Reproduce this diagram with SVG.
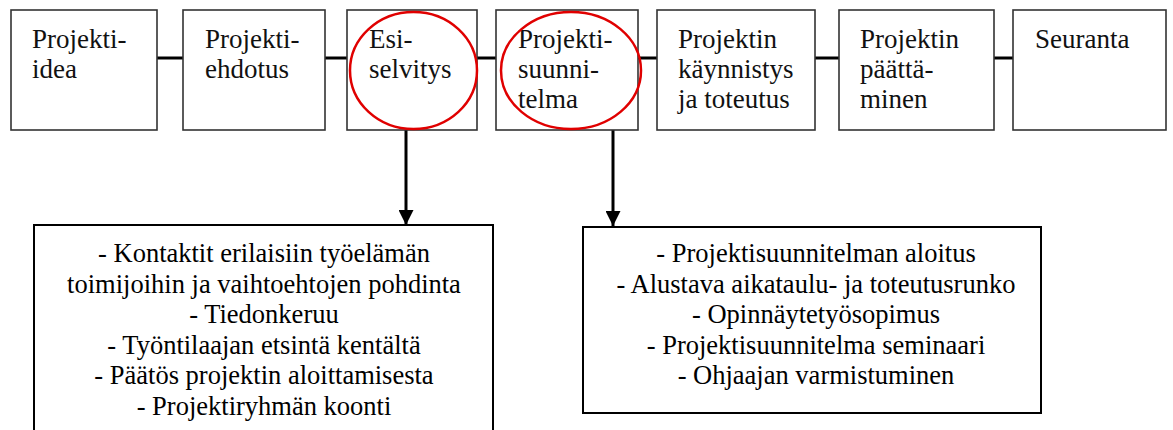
<svg xmlns="http://www.w3.org/2000/svg" width="1173" height="430" viewBox="0 0 1173 430">
<style>
  .box{fill:#fff;stroke:#333;stroke-width:1.6}
  .bbox{fill:#fff;stroke:#000;stroke-width:2}
  .t{font-size:27px;fill:#111}
  .b{font-size:26.5px;fill:#000;text-anchor:middle}
  .conn{stroke:#000;stroke-width:3;fill:none}
  .circ{fill:none;stroke:#e00000;stroke-width:2.5}
</style>
<defs>
  <marker id="ah" markerWidth="5" markerHeight="5" refX="5" refY="2.5" orient="auto" markerUnits="strokeWidth">
    <path d="M0,0 L5,2.5 L0,5 Z" fill="#000"/>
  </marker>
</defs>
<rect width="1173" height="430" fill="#fff"/>
<g id="connectors">
  <line class="conn" x1="157" y1="58" x2="183" y2="58"/>
  <line class="conn" x1="325" y1="58" x2="347" y2="58"/>
  <line class="conn" x1="477" y1="58" x2="496" y2="58"/>
  <line class="conn" x1="638" y1="58" x2="657" y2="58"/>
  <line class="conn" x1="815" y1="58" x2="839" y2="58"/>
  <line class="conn" x1="994" y1="58" x2="1013" y2="58"/>
  <line class="conn" x1="406" y1="130" x2="406" y2="225" marker-end="url(#ah)"/>
  <line class="conn" x1="613" y1="130" x2="613" y2="226" marker-end="url(#ah)"/>
</g>
<g font-family="Liberation Serif">
<g id="n1">
  <rect class="box" x="11" y="10" width="146" height="120"/>
  <text class="t" x="32" y="48">Projekti-</text>
  <text class="t" x="32" y="78">idea</text>
</g>
<g id="n2">
  <rect class="box" x="183" y="10" width="142" height="120"/>
  <text class="t" x="205" y="48">Projekti-</text>
  <text class="t" x="205" y="78">ehdotus</text>
</g>
<g id="n3">
  <rect class="box" x="347" y="10" width="130" height="120"/>
  <text class="t" x="369" y="48">Esi-</text>
  <text class="t" x="369" y="78">selvitys</text>
</g>
<g id="n4">
  <rect class="box" x="496" y="10" width="142" height="120"/>
  <text class="t" x="518" y="48">Projekti-</text>
  <text class="t" x="518" y="78">suunni-</text>
  <text class="t" x="518" y="108">telma</text>
</g>
<g id="n5">
  <rect class="box" x="657" y="10" width="158" height="120"/>
  <text class="t" x="678" y="48">Projektin</text>
  <text class="t" x="678" y="78">käynnistys</text>
  <text class="t" x="678" y="108">ja toteutus</text>
</g>
<g id="n6">
  <rect class="box" x="839" y="10" width="155" height="120"/>
  <text class="t" x="860" y="48">Projektin</text>
  <text class="t" x="860" y="78">päättä-</text>
  <text class="t" x="860" y="108">minen</text>
</g>
<g id="n7">
  <rect class="box" x="1013" y="10" width="153" height="120"/>
  <text class="t" x="1035" y="48">Seuranta</text>
</g>
<g id="highlights">
  <ellipse class="circ" cx="413.5" cy="70.5" rx="63.5" ry="58.5"/>
  <ellipse class="circ" cx="571" cy="70.5" rx="70" ry="58.5"/>
</g>
<g id="n8">
  <rect class="bbox" x="34" y="225" width="459" height="210"/>
  <text class="b" x="264" y="262">- Kontaktit erilaisiin työelämän</text>
  <text class="b" x="264" y="292.5">toimijoihin ja vaihtoehtojen pohdinta</text>
  <text class="b" x="264" y="323">- Tiedonkeruu</text>
  <text class="b" x="264" y="353.5">- Työntilaajan etsintä kentältä</text>
  <text class="b" x="264" y="384">- Päätös projektin aloittamisesta</text>
  <text class="b" x="264" y="414.5">- Projektiryhmän koonti</text>
</g>
<g id="n9">
  <rect class="bbox" x="583" y="227" width="458" height="186"/>
  <text class="b" x="816" y="262">- Projektisuunnitelman aloitus</text>
  <text class="b" x="816" y="292.5">- Alustava aikataulu- ja toteutusrunko</text>
  <text class="b" x="816" y="323">- Opinnäytetyösopimus</text>
  <text class="b" x="816" y="353.5">- Projektisuunnitelma seminaari</text>
  <text class="b" x="816" y="384">- Ohjaajan varmistuminen</text>
</g>
</g>
</svg>
